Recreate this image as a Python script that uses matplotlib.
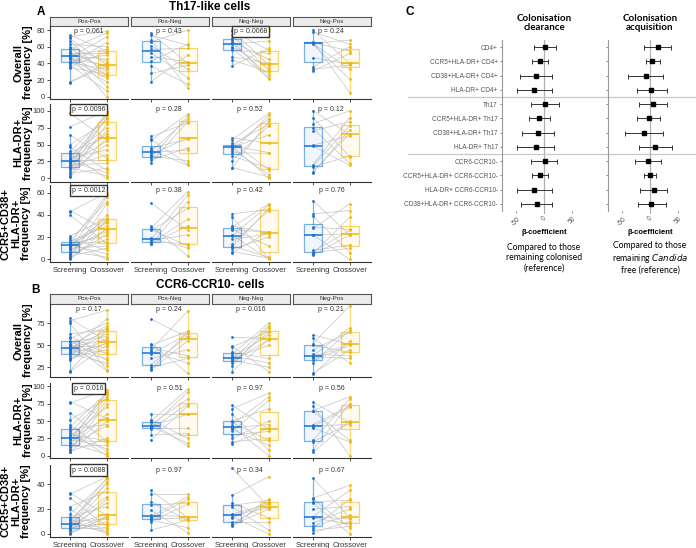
import numpy as np
import matplotlib
matplotlib.use("Agg")
import matplotlib.pyplot as plt

plt.rcParams['font.family'] = ['Liberation Sans', 'DejaVu Sans']

groups = ["Pos-Pos", "Pos-Neg", "Neg-Neg", "Neg-Pos"]
timepoints = ["Screening", "Crossover"]

# Panel A: Th17-like cells (screening / crossover pairs per group)
th17_overall_scr = [
    [74, 72, 70, 67, 63, 60, 58, 57, 55, 53, 52, 50, 49, 49, 48, 47, 46, 45, 43, 42, 41, 40, 38, 36, 35, 18, 17],
    [76, 74, 68, 66, 61, 57, 53, 48, 43, 37, 28, 18],
    [80, 79, 74, 70, 68, 66, 64, 63, 60, 58, 56, 48, 44, 37],
    [80, 78, 66, 65, 64, 64, 63, 47, 36, 33, 31],
]
th17_overall_cro = [
    [55, 79, 38, 25, 60, 42, 30, 77, 12, 53, 35, 0, 45, 57, 26, 72, 22, 38, 50, 18, 33, 65, 7, 54, 27, 40, 37],
    [40, 62, 10, 80, 33, 58, 23, 42, 63, 15, 38, 50],
    [38, 56, 32, 80, 21, 45, 26, 67, 35, 23, 52, 40, 30, 58],
    [40, 63, 5, 55, 33, 68, 21, 39, 60, 38, 52],
]
th17_hladr_scr = [
    [96, 76, 64, 50, 46, 40, 38, 36, 33, 30, 28, 27, 26, 25, 24, 22, 20, 19, 17, 16, 15, 12, 10, 7, 4, 2],
    [62, 58, 56, 45, 42, 40, 38, 35, 33, 30, 27, 23],
    [60, 57, 53, 50, 48, 48, 47, 46, 44, 40, 38, 33, 26, 16, 15],
    [100, 90, 81, 74, 70, 49, 48, 20, 18, 17, 10, 8],
]
th17_hladr_cro = [
    [58, 100, 30, 84, 12, 92, 62, 0, 75, 42, 95, 27, 66, 8, 88, 55, 22, 98, 35, 70, 4, 90, 50, 15, 80, 60],
    [82, 21, 95, 58, 19, 88, 42, 60, 26, 92, 45, 84],
    [52, 96, 13, 80, 38, 0, 88, 64, 5, 93, 37, 15, 78, 2, 85],
    [65, 32, 100, 22, 84, 63, 19, 90, 78, 33, 66, 72],
]
th17_ccr5_scr = [
    [44, 43, 40, 21, 19, 17, 16, 15, 14, 14, 14, 14, 13, 13, 12, 11, 10, 9, 8, 7, 6, 5, 4, 3, 2, 1, 0],
    [51, 30, 28, 27, 26, 19, 18, 17, 16, 15, 14, 14],
    [41, 38, 30, 29, 27, 26, 22, 21, 18, 14, 12, 11, 9, 7, 6],
    [53, 41, 39, 29, 28, 22, 22, 8, 7, 6, 5, 4],
]
th17_ccr5_cro = [
    [26, 60, 14, 37, 8, 52, 30, 0, 36, 21, 58, 16, 33, 5, 34, 25, 12, 56, 27, 2, 40, 18, 35, 10, 50, 23, 28],
    [26, 3, 61, 12, 46, 10, 58, 22, 14, 36, 52, 30],
    [45, 1, 24, 50, 12, 25, 0, 49, 23, 44, 2, 46, 20, 1, 25],
    [22, 44, 6, 27, 50, 0, 23, 13, 26, 10, 38, 22],
]

# Panel B: CCR6-CCR10- cells
ccr6_overall_scr = [
    [81, 78, 75, 63, 60, 58, 55, 54, 52, 50, 49, 48, 47, 47, 46, 45, 44, 42, 41, 40, 38, 36, 34, 33, 21, 20],
    [80, 52, 50, 47, 45, 43, 40, 35, 28, 25, 23, 22],
    [59, 49, 48, 42, 40, 38, 36, 35, 34, 33, 32, 30, 27, 20],
    [62, 58, 52, 50, 45, 40, 38, 37, 36, 33, 30, 18, 17],
]
ccr6_overall_cro = [
    [54, 90, 22, 68, 40, 75, 33, 60, 21, 72, 48, 56, 27, 66, 42, 80, 35, 63, 52, 30, 70, 45, 58, 53, 67, 50],
    [59, 18, 66, 38, 89, 30, 63, 45, 60, 35, 65, 55],
    [58, 20, 66, 35, 75, 30, 62, 50, 72, 25, 56, 65, 70, 57],
    [51, 30, 95, 42, 65, 38, 70, 35, 52, 50, 67, 45, 55],
]
ccr6_hladr_scr = [
    [78, 76, 62, 52, 45, 42, 38, 35, 33, 30, 28, 26, 25, 24, 22, 20, 18, 16, 15, 13, 10, 8, 6, 5],
    [60, 52, 50, 48, 45, 43, 42, 41, 40, 38, 30, 23],
    [73, 68, 60, 50, 48, 45, 42, 40, 38, 35, 30, 25, 20, 17],
    [77, 72, 65, 64, 45, 43, 42, 40, 22, 20, 8, 5],
]
ccr6_hladr_cro = [
    [54, 95, 21, 82, 5, 90, 45, 0, 88, 22, 70, 10, 85, 55, 20, 92, 2, 80, 43, 15, 60, 75, 25, 50],
    [60, 25, 96, 14, 82, 60, 18, 92, 40, 75, 32, 72],
    [38, 90, 8, 68, 22, 85, 0, 45, 15, 80, 35, 50, 25, 40],
    [48, 0, 85, 22, 72, 45, 70, 20, 82, 47, 75, 50],
]
ccr6_ccr5_scr = [
    [33, 32, 29, 22, 20, 16, 14, 12, 11, 10, 9, 8, 8, 7, 7, 7, 6, 6, 5, 5, 4, 3, 2, 1, 0],
    [35, 32, 26, 23, 19, 15, 14, 13, 12, 11, 10, 3],
    [53, 31, 25, 23, 22, 16, 15, 14, 13, 10, 8, 7, 6],
    [45, 29, 28, 26, 25, 20, 14, 14, 13, 9, 6, 5, 3, 1],
]
ccr6_ccr5_cro = [
    [15, 46, 6, 34, 1, 44, 22, 0, 40, 12, 45, 5, 30, 16, 2, 42, 8, 25, 4, 37, 14, 28, 10, 13, 14],
    [13, 32, 11, 25, 1, 14, 30, 12, 28, 5, 24, 11],
    [22, 46, 13, 27, 3, 24, 21, 0, 26, 10, 25, 20, 28],
    [13, 39, 5, 27, 0, 22, 35, 12, 8, 20, 15, 28, 6, 10],
]

th17_pvals = [["0.061", "0.43", "0.0068", "0.24"],
              ["0.0096", "0.28", "0.52", "0.12"],
              ["0.0012", "0.38", "0.42", "0.76"]]
th17_boxed = [[False, False, True, False],
              [True, False, False, False],
              [True, False, False, False]]
ccr6_pvals = [["0.17", "0.24", "0.016", "0.21"],
              ["0.016", "0.51", "0.97", "0.56"],
              ["0.0088", "0.97", "0.34", "0.67"]]
ccr6_boxed = [[False, False, False, False],
              [True, False, False, False],
              [True, False, False, False]]

row_labels = ["Overall\nfrequency [%]", "HLA-DR+\nfrequency [%]", "CCR5+CD38+\nHLA-DR+\nfrequency [%]"]
row_label_x = [23, 23, 16]

# Panel C: forest plot
forest_labels = ["CD4+", "CCR5+HLA-DR+ CD4+", "CD38+HLA-DR+ CD4+", "HLA-DR+ CD4+",
                 "Th17", "CCR5+HLA-DR+ Th17", "CD38+HLA-DR+ Th17", "HLA-DR+ Th17",
                 "CCR6-CCR10-", "CCR5+HLA-DR+ CCR6-CCR10-", "HLA-DR+ CCR6-CCR10-",
                 "CD38+HLA-DR+ CCR6-CCR10-"]
clear_beta = [2, -7, -14, -17, 1, -9, -11, -15, 1, -7, -17, -13]
clear_lo = [-18, -22, -42, -49, -24, -27, -40, -49, -23, -21, -49, -41]
clear_hi = [22, 8, 15, 15, 27, 10, 18, 18, 23, 8, 14, 15]
acq_beta = [14, 4, -8, 2, 6, -2, -11, 9, -4, 0, 7, 2]
acq_lo = [-10, -8, -39, -24, -19, -23, -45, -20, -27, -11, -17, -22]
acq_hi = [38, 17, 23, 30, 30, 18, 23, 40, 20, 11, 31, 28]

W, H = 696, 548
blue = "#1a73cf"
gold = "#f2b705"


def rect(x0, y0, x1, y1):
    return [x0 / W, 1 - y1 / H, (x1 - x0) / W, (y1 - y0) / H]


fig = plt.figure(figsize=(W / 100, H / 100), dpi=100)

cols_x = [(50, 128), (131, 209), (212, 290), (293, 371)]


def draw_panel(rows_y, ylims, yticks, scr_rows, cro_rows, pvals, boxed, strip_y, title, title_y,
               letter, letter_xy):
    fig.text(210 / W, 1 - title_y / H, title, ha='center', va='center', fontsize=8.5, fontweight='bold')
    fig.text(letter_xy[0] / W, 1 - letter_xy[1] / H, letter, ha='center', va='center',
             fontsize=8.5, fontweight='bold')
    for c, (x0, x1) in enumerate(cols_x):
        sax = fig.add_axes(rect(x0, strip_y[0], x1, strip_y[1]))
        sax.set_facecolor("#ececec")
        sax.set_xticks([])
        sax.set_yticks([])
        for s in sax.spines.values():
            s.set_color("#555555")
            s.set_linewidth(0.8)
        sax.text(0.5, 0.5, groups[c], ha='center', va='center', fontsize=4.5, color="#333333",
                 transform=sax.transAxes)
    for r, (y0, y1) in enumerate(rows_y):
        fig.text(row_label_x[r] / W, 1 - (y0 + y1) / 2 / H, row_labels[r], rotation=90,
                 ha='center', va='center', fontsize=8, fontweight='bold', linespacing=1.0)
        for c, (x0, x1) in enumerate(cols_x):
            ax = fig.add_axes(rect(x0, y0, x1, y1))
            scr = scr_rows[r][c]
            cro = cro_rows[r][c]
            for s, v in zip(scr, cro):
                ax.plot([1, 2], [s, v], color="#c4c4c4", lw=0.5, zorder=1)
            bp = ax.boxplot([scr, cro], positions=[1, 2], widths=0.5, showfliers=False,
                            showcaps=False, patch_artist=True, whis=1.5)
            for i, col in enumerate([blue, gold]):
                bp['boxes'][i].set(facecolor=matplotlib.colors.to_rgba(col, 0.06),
                                   edgecolor=matplotlib.colors.to_rgba(col, 0.55), linewidth=0.9)
                bp['medians'][i].set(color=col, linewidth=1.1)
                for w in bp['whiskers'][2 * i:2 * i + 2]:
                    w.set(color=matplotlib.colors.to_rgba(col, 0.55), linewidth=0.9)
            ax.scatter([1] * len(scr), scr, s=4, color=blue, zorder=3, linewidths=0)
            ax.scatter([2] * len(cro), cro, s=4, color=gold, zorder=3, linewidths=0)
            ax.set_xlim(0.455, 2.58)
            ax.set_ylim(*ylims[r])
            ax.set_xticks([1, 2])
            ax.set_yticks(yticks[r])
            ax.tick_params(length=2, width=0.6, colors="#333333", labelsize=5.5, pad=1.5)
            if r == 2:
                ax.set_xticklabels(timepoints, fontsize=5.5, color="#333333")
            else:
                ax.set_xticklabels([])
            ax.spines['top'].set_visible(False)
            ax.spines['right'].set_visible(False)
            ax.spines['bottom'].set_color("#333333")
            ax.spines['bottom'].set_linewidth(0.8)
            if c == 0:
                ax.spines['left'].set_color("#333333")
                ax.spines['left'].set_linewidth(0.8)
            else:
                ax.spines['left'].set_visible(False)
                ax.tick_params(axis='y', left=False, labelleft=False)
            ax.set_facecolor('none')
            kw = {}
            if boxed[r][c]:
                kw['bbox'] = dict(boxstyle='square,pad=0.3', fc='white', ec='#333333', lw=1.0)
            ax.text(1.5, 0.93, "p = " + pvals[r][c], ha='center', va='center', fontsize=5,
                    color="#333333", transform=ax.get_xaxis_transform(), zorder=5, **kw)


draw_panel([(26, 99), (104, 181.7), (185, 262.3)],
           [(-2.8, 85), (-5, 110), (-2.7, 67)],
           [[0, 20, 40, 60, 80], [0, 25, 50, 75, 100], [0, 20, 40, 60]],
           [th17_overall_scr, th17_hladr_scr, th17_ccr5_scr],
           [th17_overall_cro, th17_hladr_cro, th17_ccr5_cro],
           th17_pvals, th17_boxed, (17, 25.5), "Th17-like cells", 7, "A", (41, 12))

draw_panel([(304, 377.3), (383, 458.3), (465, 537.3)],
           [(13.6, 97), (-3.8, 105), (-2.7, 55.5)],
           [[25, 50, 75], [0, 25, 50, 75, 100], [0, 20, 40]],
           [ccr6_overall_scr, ccr6_hladr_scr, ccr6_ccr5_scr],
           [ccr6_overall_cro, ccr6_hladr_cro, ccr6_ccr5_cro],
           ccr6_pvals, ccr6_boxed, (294, 303.5), "CCR6-CCR10- cells", 285, "B", (35, 290))

# Panel C
fig.text(410 / W, 1 - 12 / H, "C", ha='center', va='center', fontsize=8.5, fontweight='bold')
ypos = np.arange(len(forest_labels))
forest = [(502, clear_beta, clear_lo, clear_hi, "Colonisation\nclearance",
           "Compared to those\nremaining colonised\n(reference)"),
          (608, acq_beta, acq_lo, acq_hi, "Colonisation\nacquisition",
           "Compared to those\nremaining $\\it{Candida}$\nfree (reference)")]
for k, (x0, beta, lo, hi, ttl, note) in enumerate(forest):
    ax = fig.add_axes(rect(x0, 40, x0 + 84, 211))
    beta = np.array(beta)
    err = [beta - np.array(lo), np.array(hi) - beta]
    ax.axvline(0, color="#b0b0b0", lw=0.9, zorder=1)
    ax.errorbar(beta, ypos, xerr=err, fmt='s', color='black', ecolor='#333333',
                ms=3.5, elinewidth=0.7, capsize=1.8, capthick=0.7, zorder=3)
    if k == 0:
        for yl in [3.5, 7.5]:
            ax.axhline(yl, xmin=(408 - x0) / 84, xmax=(696 - x0) / 84, color="#c8c8c8",
                       lw=0.9, clip_on=False)
    ax.set_xlim(-75, 75)
    ax.set_ylim(11.5, -0.5)
    ax.set_yticks(ypos)
    if k == 0:
        ax.set_yticklabels(forest_labels, fontsize=4.7, color="#222222")
    else:
        ax.set_yticklabels([])
    ax.set_xticks([-50, 0, 50])
    ax.set_xticklabels(["-50", "0", "50"], rotation=45, fontsize=4.8, color="#333333")
    ax.tick_params(length=1.5, width=0.5, pad=1.5, colors="#555555")
    ax.spines['top'].set_visible(False)
    ax.spines['right'].set_visible(False)
    ax.spines['bottom'].set_visible(False)
    ax.spines['left'].set_color("#999999")
    ax.set_facecolor('none')
    cx = (x0 + 42) / W
    fig.text(cx, 1 - 23 / H, ttl, ha='center', va='center', fontsize=7, fontweight='bold',
             family='Lato', linespacing=1.1)
    fig.text(cx, 1 - 233 / H, "β-coefficient", ha='center', va='center', fontsize=5.5,
             fontweight='bold')
    fig.text(cx, 1 - 258 / H, note, ha='center', va='center', fontsize=6.2, family='Lato',
             linespacing=1.15)

fig.savefig("out.png", dpi=100)
